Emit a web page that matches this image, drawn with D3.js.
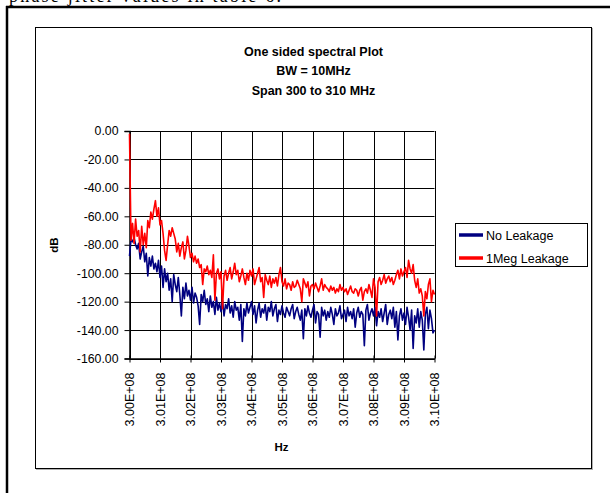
<!DOCTYPE html>
<html><head><meta charset="utf-8">
<script src="https://cdn.jsdelivr.net/npm/d3@7"></script>
<style>
html,body{margin:0;padding:0;background:#fff;}
svg{display:block;font-family:Arial,"Liberation Sans",sans-serif;}
</style></head>
<body>
<svg id="c" width="610" height="493"></svg>
<script>
// ---- data ----
const titleLines = ["One sided spectral Plot", "BW = 10MHz", "Span 300 to 310 MHz"];
const seriesNames = ["No Leakage", "1Meg Leakage"];
const seriesColors = ["#000080", "#ff0000"];
const freqStartHz = 3.00e8;
const freqStepHz = 0.05e6;
const xTickValues = [3.00e8,3.01e8,3.02e8,3.03e8,3.04e8,3.05e8,3.06e8,3.07e8,3.08e8,3.09e8,3.10e8];
const xTickLabels = ["3.00E+08","3.01E+08","3.02E+08","3.03E+08","3.04E+08","3.05E+08","3.06E+08","3.07E+08","3.08E+08","3.09E+08","3.10E+08"];
const yTickValues = [0,-20,-40,-60,-80,-100,-120,-140,-160];
const yTickLabels = ["0.00","-20.00","-40.00","-60.00","-80.00","-100.00","-120.00","-140.00","-160.00"];

const noLeakage = [
-88,-76,-78,-75,-80, -83,-79,-90,-85,-81, -92,-86,-102,-89,-95, -88,-97,-93,-99,-91,
-103,-95,-110,-97,-106, -100,-112,-104,-120,-101, -108,-113,-103,-115,-130, -110,-118,-107,-116,-112,
-119,-110,-121,-114,-117, -123,-136,-115,-120,-112, -122,-118,-127,-116,-124, -120,-129,-117,-126,-121,
-127,-119,-130,-122,-125, -118,-128,-123,-131,-120, -126,-124,-133,-122,-148, -125,-130,-121,-128,-124,
-120,-129,-123,-135,-126, -121,-131,-125,-128,-122, -133,-124,-127,-120,-130, -125,-122,-134,-126,-129,
-123,-128,-131,-124,-127, -130,-125,-122,-132,-127, -124,-129,-133,-126,-146, -125,-130,-123,-128,-131,
-126,-122,-135,-127,-129, -145,-124,-130,-126,-133, -127,-131,-124,-129,-136, -125,-130,-128,-123,-132,
-129,-126,-134,-124,-130, -127,-132,-125,-138,-128, -124,-131,-127,-129,-151, -126,-122,-133,-128,-125,
-130,-124,-137,-127,-131, -125,-134,-128,-122,-136, -129,-126,-132,-124,-138, -127,-147,-130,-125,-133,
-128,-136,-124,-131,-140, -126,-153,-130,-135,-125, -138,-127,-133,-154,-129, -124,-139,-126,-132,-142,
-140
];
const meg1Leakage = [
-2,-77,-65,-79,-62, -74,-70,-85,-67,-80, -72,-82,-63,-68,-57, -62,-55,-49,-60,-54,
-66,-63,-72,-84,-91, -80,-70,-74,-68,-72, -76,-85,-79,-88,-82, -78,-90,-84,-74,-81,
-89,-86,-92,-88,-93, -90,-96,-94,-108,-97, -99,-95,-101,-98,-103, -87,-119,-100,-97,-104,
-99,-125,-102,-98,-105, -100,-96,-104,-99,-93, -101,-98,-106,-102,-97, -103,-108,-100,-105,-98,
-102,-97,-108,-104,-100, -96,-106,-103,-117,-101, -105,-108,-102,-110,-104, -107,-103,-109,-101,-96,
-106,-109,-104,-111,-107, -108,-112,-106,-110,-109, -105,-108,-111,-120,-104, -107,-110,-106,-116,-109,
-108,-111,-107,-110,-113, -109,-104,-112,-108,-110, -111,-113,-109,-112,-110, -114,-111,-113,-108,-112,
-110,-113,-111,-115,-112, -109,-113,-114,-111,-112, -116,-112,-110,-119,-113, -111,-114,-108,-112,-117,
-104,-110,-130,-106,-103, -108,-105,-101,-107,-104, -102,-106,-103,-108,-105, -101,-98,-104,-97,-102,
-99,-96,-103,-91,-97, -100,-94,-105,-110,-104, -114,-111,-116,-130,-113, -118,-108,-104,-120,-112,
-115
];

// ---- layout ----
const svg = d3.select("#c");
const W = 610, H = 493;
const plot = {left: 129.5, right: 434.5, top: 131, bottom: 358.5};

// text from the page above the chart (cut off at the top edge, as in the source)
svg.append("text").attr("x", 9).attr("y", 1.5).attr("font-family", "'Liberation Serif','Times New Roman',serif")
  .attr("font-size", 18).attr("letter-spacing", 2.2).attr("fill", "#000").text("phase jitter values in table 6.");

// outer page frame lines
svg.append("line").attr("x1", 6).attr("x2", W).attr("y1", 7).attr("y2", 7).attr("stroke", "#000").attr("stroke-width", 2.5);
svg.append("line").attr("x1", 7).attr("x2", 7).attr("y1", 6).attr("y2", H).attr("stroke", "#000").attr("stroke-width", 2.5);

// chart box with shadow
svg.append("rect").attr("x", 36.5).attr("y", 28.5).attr("width", 556).attr("height", 441).attr("fill", "none").attr("stroke", "#b0b0b0");
svg.append("rect").attr("x", 35.5).attr("y", 27.5).attr("width", 556).attr("height", 441).attr("fill", "#fff").attr("stroke", "#000");

// title
const title = svg.append("text").attr("text-anchor", "middle").attr("font-weight", "bold").attr("font-size", 12.5);
titleLines.forEach((t, i) => title.append("tspan").attr("x", 313.5).attr("y", 55.5 + i * 19.5).text(t));

// scales
const x = d3.scaleLinear().domain([3.00e8, 3.10e8]).range([plot.left, plot.right]);
const y = d3.scaleLinear().domain([-160, 0]).range([plot.bottom, plot.top]);

// gridlines
const g = svg.append("g");
g.selectAll(".hg").data(yTickValues).join("line")
  .attr("x1", plot.left).attr("x2", plot.right)
  .attr("y1", d => Math.round(y(d)) + 0.5).attr("y2", d => Math.round(y(d)) + 0.5)
  .attr("stroke", "#000").attr("stroke-width", 1);
g.selectAll(".vg").data(xTickValues).join("line")
  .attr("x1", d => Math.round(x(d)) + 0.5).attr("x2", d => Math.round(x(d)) + 0.5)
  .attr("y1", plot.top).attr("y2", plot.bottom)
  .attr("stroke", "#000").attr("stroke-width", 1);

// y axis
const yAxis = d3.axisLeft(y).tickValues(yTickValues).tickFormat((d, i) => yTickLabels[i]).tickSize(5).tickPadding(6);
const ya = svg.append("g").attr("transform", `translate(${plot.left},0)`).call(yAxis);
ya.select(".domain").attr("stroke", "#000").attr("stroke-width", 1.5);
ya.selectAll(".tick line").attr("stroke", "#000");
ya.selectAll("text").attr("font-size", 12.3).attr("font-family", "Arial,'Liberation Sans',sans-serif").attr("fill", "#000");

// x axis
const xAxis = d3.axisBottom(x).tickValues(xTickValues).tickFormat((d, i) => xTickLabels[i]).tickSizeInner(4).tickSizeOuter(0);
const xa = svg.append("g").attr("transform", `translate(0,${plot.bottom})`).call(xAxis);
xa.select(".domain").attr("stroke", "#000").attr("stroke-width", 1.5);
xa.selectAll(".tick line").attr("stroke", "#000").attr("y1", -3);
xa.selectAll("text")
  .attr("font-size", 12.5).attr("font-family", "Arial,'Liberation Sans',sans-serif").attr("fill", "#000")
  .attr("transform", "rotate(-90)").attr("text-anchor", "end")
  .attr("x", -14).attr("y", 0).attr("dy", "0.35em");

// axis titles
svg.append("text").attr("x", 281.5).attr("y", 451).attr("text-anchor", "middle").attr("font-weight", "bold").attr("font-size", 11.5).text("Hz");
svg.append("text").attr("transform", "translate(58,245) rotate(-90)").attr("text-anchor", "middle").attr("font-weight", "bold").attr("font-size", 11.5).text("dB");

// series
const seriesData = [noLeakage, meg1Leakage];
const line = d3.line().x((d, i) => x(freqStartHz + i * freqStepHz)).y(d => y(d));
seriesData.forEach((s, k) => {
  svg.append("path").datum(s).attr("d", line).attr("fill", "none")
    .attr("stroke", seriesColors[k]).attr("stroke-width", 1.6).attr("stroke-linejoin", "round");
});

// legend
const lg = svg.append("g");
lg.append("rect").attr("x", 455.5).attr("y", 223.5).attr("width", 132).attr("height", 43).attr("fill", "#fff").attr("stroke", "#000");
seriesNames.forEach((n, i) => {
  const yy = 235 + i * 23;
  lg.append("line").attr("x1", 459).attr("x2", 483).attr("y1", yy).attr("y2", yy).attr("stroke", seriesColors[i]).attr("stroke-width", 3.5);
  lg.append("text").attr("x", 486).attr("y", yy).attr("dy", "0.36em").attr("font-size", 12.5).text(n);
});
</script>
</body></html>
